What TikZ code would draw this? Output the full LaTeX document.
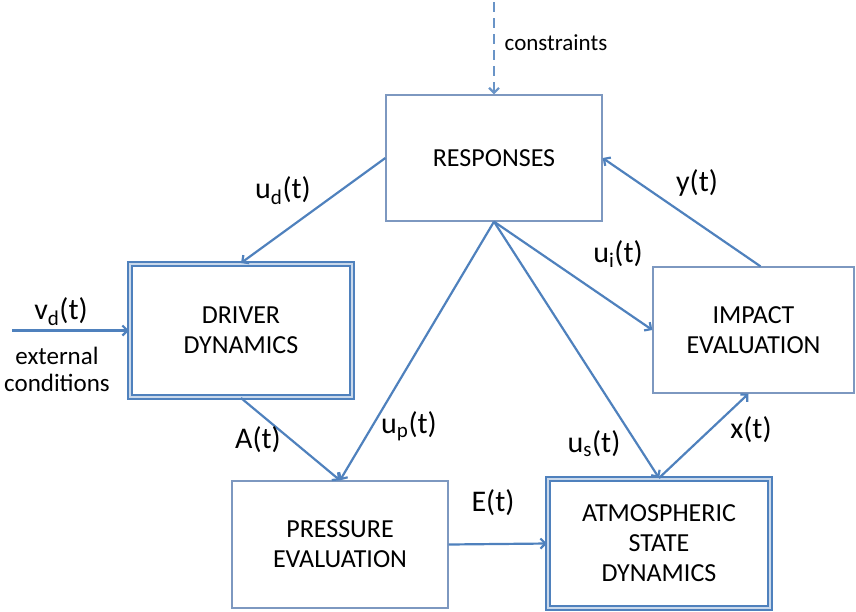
\documentclass[tikz,border=0pt]{standalone}
\usepackage{fontspec}
\setmainfont{Carlito}
\usepackage{tikz}
\usetikzlibrary{positioning}
\usetikzlibrary{arrows.meta}
\definecolor{linkblue}{RGB}{79,129,189}
\definecolor{boxblue}{RGB}{125,152,192}
\tikzset{
  arrow_link/.style={-{Straight Barb[length = 5pt, width = 10pt]}, line width = 2.2pt, color = linkblue},
  arrow_dashed/.style={-{Straight Barb[length = 5pt, width = 10pt]}, dash pattern = on 10pt off 6pt, line width = 2.2pt, color = linkblue!85},
  box_plain/.style={rectangle, draw = boxblue, line width = 1.3pt, minimum width = 216, minimum height = 126, align = center, inner sep = 0, font = \fontsize{26}{30}\selectfont},
  box_double/.style={box_plain, draw = linkblue, double = white!70!linkblue, double distance = 1.4pt, line width = 2pt},
  label_text/.style={draw = none, inner sep = 0, font = \fontsize{30}{34}\selectfont},
  small_text/.style={draw = none, inner sep = 0, align = center, font = \fontsize{25}{27}\selectfont}}
\begin{document}
\begin{tikzpicture}[x = 1pt, y = -1pt]

\useasboundingbox (0,0) rectangle (856,611);

%%% boxes
\node[box_plain] at (494,158) (resp) {RESPONSES};
\node[box_double, minimum width = 222, minimum height = 133] at (241,330.5) (driver) {DRIVER\\DYNAMICS};
\node[box_plain, minimum width = 201] at (753.5,330) (impact) {IMPACT\\EVALUATION};
\node[box_plain, minimum height = 127] at (340,544.5) (press) {PRESSURE\\EVALUATION};
\node[box_double, minimum width = 222, minimum height = 129] at (659,543.5) (atm) {ATMOSPHERIC\\STATE\\DYNAMICS};

% free ends
\coordinate (ctop) at (494,2);
\coordinate (vin) at (12,330.5);

%%% arrows
\draw[arrow_dashed] (ctop) -- (resp.north);
\draw[arrow_link] (resp.west) -- (driver.north);
\draw[arrow_link] (vin) -- (driver.west);
\draw[arrow_link] (driver.south) -- (press.north);
\draw[arrow_link] (resp.south) -- (press.north);
\draw[arrow_link] (resp.south) -- (impact.west);
\draw[arrow_link] (resp.south) -- (atm.north);
\draw[arrow_link] (press.east) -- (atm.west);
\draw[arrow_link] (atm.north) -- ([xshift = -5]impact.south);
\draw[arrow_link] ([xshift = 7]impact.north) -- (resp.east);

%%% labels
\node[small_text, font = \fontsize{23}{27}\selectfont] at (556,43) (lbl_con) {constraints};
\node[label_text] at (283,191) (lbl_ud) {u\textsubscript{d}(t)};
\node[label_text] at (61,312) (lbl_vd) {v\textsubscript{d}(t)};
\node[small_text] at (57,369) (lbl_ext) {external\\conditions};
\node[label_text] at (258,440) (lbl_a) {A(t)};
\node[label_text] at (409,426) (lbl_up) {u\textsubscript{p}(t)};
\node[label_text] at (493,503) (lbl_e) {E(t)};
\node[label_text] at (618,254) (lbl_ui) {u\textsubscript{i}(t)};
\node[label_text] at (697,183) (lbl_y) {y(t)};
\node[label_text] at (594,444) (lbl_us) {u\textsubscript{s}(t)};
\node[label_text] at (751,430) (lbl_x) {x(t)};

\end{tikzpicture}
\end{document}
